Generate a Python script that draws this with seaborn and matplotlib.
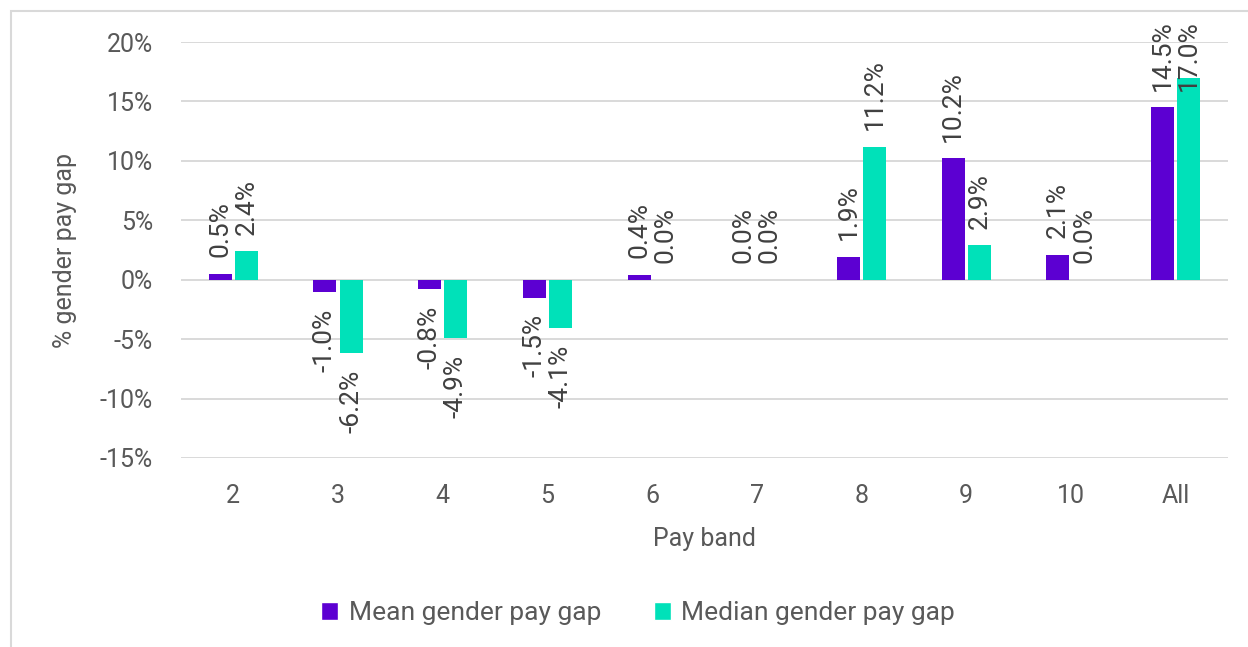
import pandas as pd
import matplotlib
matplotlib.use("Agg")
import matplotlib.pyplot as plt
import seaborn as sns
from matplotlib.patches import Patch, Rectangle
from matplotlib.ticker import FuncFormatter

# --- Data ---
PAY_BANDS = ["2", "3", "4", "5", "6", "7", "8", "9", "10", "All"]
MEAN_GAP = [0.5, -1.0, -0.8, -1.5, 0.4, 0.0, 1.9, 10.2, 2.1, 14.5]
MEDIAN_GAP = [2.4, -6.2, -4.9, -4.1, 0.0, 0.0, 11.2, 2.9, 0.0, 17.0]
SERIES = ["Mean gender pay gap", "Median gender pay gap"]

# --- Style ---
PURPLE = "#5C00D2"
TEAL = "#00E1B9"
GRID = "#D9D9D9"
TICK_COLOR = "#595959"
LABEL_COLOR = "#404040"
FONT = ["Roboto", "DejaVu Sans"]
FS_TICK = 18
FS_TEXT = 19

df = pd.DataFrame({
    "band": PAY_BANDS * 2,
    "gap": MEAN_GAP + MEDIAN_GAP,
    "series": [SERIES[0]] * len(PAY_BANDS) + [SERIES[1]] * len(PAY_BANDS),
})

sns.set_theme(style="white")
plt.rcParams["font.family"] = FONT

fig = plt.figure(figsize=(12.48, 6.47), dpi=100)
ax = fig.add_axes([181 / 1248, 1 - 458 / 647, 1047 / 1248, 416 / 647])

sns.barplot(data=df, x="band", y="gap", hue="series", order=PAY_BANDS,
            hue_order=SERIES, palette=[PURPLE, TEAL], saturation=1,
            width=0.5, gap=0.12, linewidth=0, legend=False, ax=ax, zorder=3)

ax.set_ylim(-15, 20)
ax.set_yticks(range(-15, 21, 5))
ax.yaxis.set_major_formatter(FuncFormatter(lambda v, _: f"{v:.0f}%"))
ax.grid(axis="y", color=GRID, linewidth=1.4, zorder=0)
ax.grid(axis="x", visible=False)
for s in ax.spines.values():
    s.set_visible(False)
ax.tick_params(axis="y", length=0, pad=20, labelsize=FS_TICK, labelcolor=TICK_COLOR)
ax.tick_params(axis="x", length=0, pad=19, labelsize=FS_TICK, labelcolor=TICK_COLOR)

ax.set_ylabel("% gender pay gap", fontsize=FS_TICK, color=TICK_COLOR, va="center")
ax.yaxis.set_label_coords(-0.111, 0.5)
ax.set_xlabel("Pay band", fontsize=FS_TICK, color=TICK_COLOR, va="center")
ax.xaxis.set_label_coords(0.5, -0.195)

# data labels, rotated like the original
for container, values in zip(ax.containers, [MEAN_GAP, MEDIAN_GAP]):
    for bar, v in zip(container, values):
        x = bar.get_x() + bar.get_width() / 2
        text = f"{v:.1f}%"
        if v > 15:
            # label would run off the top, pin it to the chart edge
            ax.annotate(text, xy=(x, 1.0), xycoords=("data", "axes fraction"),
                        xytext=(0, 16), textcoords="offset points",
                        rotation=90, ha="center", va="top", fontsize=FS_TEXT,
                        color=LABEL_COLOR, annotation_clip=False)
        elif v >= 0:
            ax.annotate(text, xy=(x, v), xytext=(0, 12), textcoords="offset points",
                        rotation=90, ha="center", va="bottom", fontsize=FS_TEXT,
                        color=LABEL_COLOR)
        else:
            ax.annotate(text, xy=(x, v), xytext=(0, -12), textcoords="offset points",
                        rotation=90, ha="center", va="top", fontsize=FS_TEXT,
                        color=LABEL_COLOR)

handles = [Patch(facecolor=PURPLE, label=SERIES[0]), Patch(facecolor=TEAL, label=SERIES[1])]
fig.legend(handles=handles, loc="center", bbox_to_anchor=(638 / 1248, 1 - 613 / 647),
           ncol=2, frameon=False, fontsize=FS_TEXT, labelcolor=TICK_COLOR,
           handlelength=0.65, handleheight=0.65, handletextpad=0.4, columnspacing=2.0)

# light chart frame, partly cropped like the source
fig.patches.append(Rectangle((11 / 1248, -0.1), 1.2, 1.1 - 11 / 647, transform=fig.transFigure,
                             fill=False, edgecolor=GRID, linewidth=1.5))

fig.savefig("out.png", dpi=100)
